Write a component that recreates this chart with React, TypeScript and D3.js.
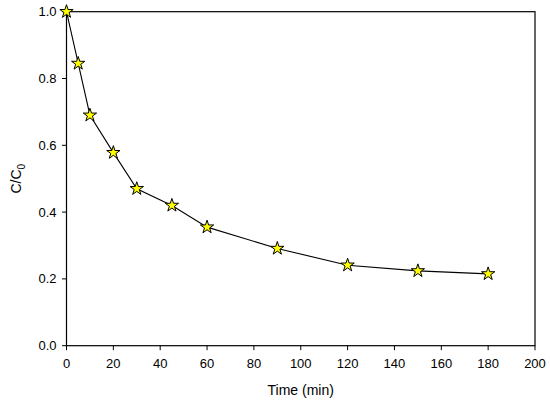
import React from 'react';
import * as d3 from 'd3';

// values
const times = [0, 5, 10, 20, 30, 45, 60, 90, 120, 150, 180];
const ratios = [1.0, 0.845, 0.69, 0.578, 0.47, 0.42, 0.355, 0.291, 0.241, 0.224, 0.215];
const xTicks = [0, 20, 40, 60, 80, 100, 120, 140, 160, 180, 200];
const yTicks = [0.0, 0.2, 0.4, 0.6, 0.8, 1.0];

const W = 550;
const H = 405;
const margin = { top: 11.7, right: 15, bottom: 59.3, left: 66.5 };

const App = () => {
  const x = d3.scaleLinear().domain([0, 200]).range([margin.left, W - margin.right]);
  const y = d3.scaleLinear().domain([0, 1]).range([H - margin.bottom, margin.top]);

  const pts = times.map((t, i) => [x(t), y(ratios[i])] as [number, number]);
  const line = d3.line()(pts) || '';
  const star = d3.symbol().type(d3.symbolStar).size(55)() || '';

  const font = 'Arial, "Liberation Sans", sans-serif';
  const x0 = x(0), x1 = x(200), y0 = y(0), y1 = y(1);

  return (
    <div style={{ position: 'absolute', left: 0, top: 0 }}>
      <svg width={W} height={H} style={{ display: 'block', background: '#fff' }}>
        <rect x={x0} y={y1} width={x1 - x0} height={y0 - y1} fill="none" stroke="#000" strokeWidth={1.2} />
        {xTicks.map(t => (
          <g key={'x' + t}>
            <line x1={x(t)} x2={x(t)} y1={y0} y2={y0 + 4.5} stroke="#000" strokeWidth={1} />
            <text x={x(t)} y={y0 + 22} textAnchor="middle" fontFamily={font} fontSize={13} fill="#000">{t}</text>
          </g>
        ))}
        {yTicks.map(t => (
          <g key={'y' + t}>
            <line x1={x0 - 4.5} x2={x0} y1={y(t)} y2={y(t)} stroke="#000" strokeWidth={1} />
            <text x={x0 - 10} y={y(t)} dy="0.35em" textAnchor="end" fontFamily={font} fontSize={13} fill="#000">{t.toFixed(1)}</text>
          </g>
        ))}
        <text x={(x0 + x1) / 2} y={H - 10} textAnchor="middle" fontFamily={font} fontSize={14} fill="#000">Time (min)</text>
        <text transform={`translate(21,${(y0 + y1) / 2}) rotate(-90)`} textAnchor="middle" fontFamily={font} fontSize={14} fill="#000">
          C/C<tspan fontSize={10} dy={4}>0</tspan>
        </text>
        <path d={line} fill="none" stroke="#000" strokeWidth={1.1} />
        {pts.map((p, i) => (
          <path key={i} d={star} transform={`translate(${p[0]},${p[1]})`} fill="#ffff00" stroke="#000" strokeWidth={1} />
        ))}
      </svg>
    </div>
  );
};

export default App;
